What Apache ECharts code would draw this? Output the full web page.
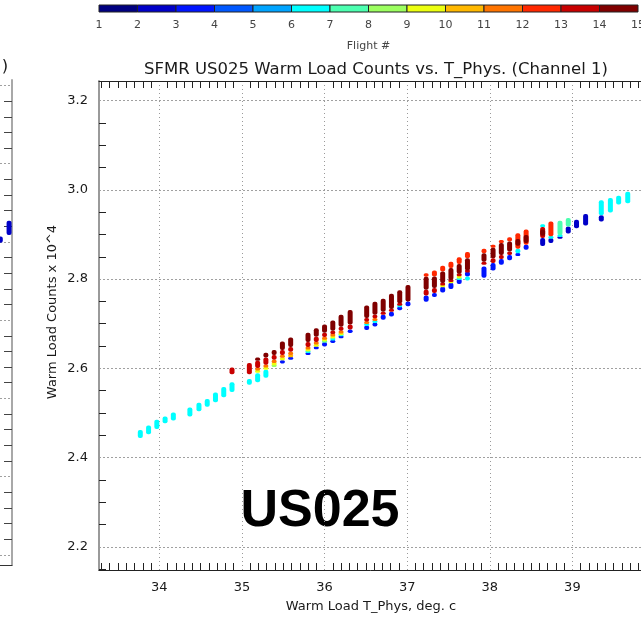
<!DOCTYPE html>
<html>
<head>
<meta charset="utf-8">
<script src="https://cdn.jsdelivr.net/npm/echarts@6/dist/echarts.min.js"></script>
<style>
html, body { margin: 0; padding: 0; background: #ffffff; }
#chart { width: 641px; height: 620px; }
</style>
</head>
<body>
<div id="chart"></div>
<script>
// Flight colour table (flights 1..14), discrete rainbow
const flightIds = [1, 2, 3, 4, 5, 6, 7, 8, 9, 10, 11, 12, 13, 14];
const flightColors = ['#000080', '#0000c8', '#0014ff', '#0058ff', '#00a4ff', '#00ffff', '#4cffb0',
  '#9cff60', '#ecff10', '#ffb800', '#ff7400', '#ff2800', '#c80000', '#800000'];
const colorbarLabels = ['1', '2', '3', '4', '5', '6', '7', '8', '9', '10', '11', '12', '13', '14', '15'];

// Each record: [T_Phys (deg C), lowest counts (x10^4), highest counts (x10^4)]
const flight02 = [[38.64, 2.874, 2.892], [38.74, 2.881, 2.892], [38.85, 2.892, 2.896], [38.95, 2.902, 2.918],
  [39.05, 2.914, 2.933], [39.16, 2.920, 2.946], [39.35, 2.929, 2.943]];
const flight03 = [[35.49, 2.611, 2.618], [35.59, 2.619, 2.626], [35.80, 2.630, 2.636], [35.90, 2.643, 2.649],
  [36.00, 2.649, 2.659], [36.10, 2.657, 2.664], [36.20, 2.668, 2.674], [36.31, 2.679, 2.687],
  [36.51, 2.686, 2.696], [36.61, 2.694, 2.703], [36.71, 2.709, 2.720], [36.81, 2.716, 2.727],
  [36.91, 2.730, 2.739], [37.01, 2.739, 2.750], [37.23, 2.749, 2.763], [37.33, 2.760, 2.769],
  [37.43, 2.770, 2.783], [37.53, 2.778, 2.792], [37.63, 2.789, 2.801], [37.73, 2.806, 2.817],
  [37.93, 2.803, 2.828], [38.04, 2.819, 2.836], [38.14, 2.832, 2.845], [38.24, 2.842, 2.854],
  [38.34, 2.852, 2.858], [38.44, 2.866, 2.877]];
const flight06 = [[33.77, 2.444, 2.462], [33.87, 2.452, 2.472], [33.97, 2.464, 2.485], [34.07, 2.477, 2.492],
  [34.17, 2.483, 2.501], [34.37, 2.492, 2.512], [34.48, 2.504, 2.523], [34.58, 2.514, 2.531],
  [34.68, 2.524, 2.546], [34.78, 2.535, 2.558], [34.88, 2.547, 2.569], [35.09, 2.563, 2.576],
  [35.19, 2.569, 2.589], [35.29, 2.579, 2.597], [35.80, 2.636, 2.639], [36.10, 2.664, 2.668],
  [36.20, 2.674, 2.676], [36.51, 2.696, 2.701], [36.61, 2.703, 2.707], [36.91, 2.739, 2.741],
  [37.63, 2.801, 2.802], [37.73, 2.797, 2.806], [38.34, 2.858, 2.868], [38.64, 2.916, 2.923],
  [38.74, 2.892, 2.896], [38.85, 2.896, 2.899], [39.35, 2.943, 2.977], [39.46, 2.949, 2.982],
  [39.56, 2.967, 2.987], [39.67, 2.970, 2.996]];
const flight07 = [[36.00, 2.659, 2.662], [38.85, 2.899, 2.931], [38.95, 2.918, 2.937]];
const flight08 = [[35.39, 2.604, 2.609]];
const flight09 = [[35.19, 2.591, 2.596], [35.29, 2.598, 2.602], [35.39, 2.609, 2.612], [35.49, 2.619, 2.624],
  [35.80, 2.639, 2.643], [35.90, 2.649, 2.654], [36.00, 2.662, 2.665], [36.10, 2.668, 2.672],
  [36.20, 2.676, 2.679], [37.43, 2.783, 2.787], [37.53, 2.792, 2.796], [37.63, 2.802, 2.807]];
const flight10 = [[35.59, 2.626, 2.630]];
const flight11 = [[35.19, 2.596, 2.601], [35.29, 2.602, 2.608], [35.39, 2.612, 2.619], [35.49, 2.624, 2.630],
  [35.59, 2.630, 2.637], [35.80, 2.643, 2.648], [35.90, 2.654, 2.659], [36.00, 2.665, 2.670],
  [36.10, 2.672, 2.677], [36.20, 2.679, 2.684], [36.51, 2.701, 2.705], [36.61, 2.707, 2.712]];
const flight12 = [[37.23, 2.805, 2.813], [37.33, 2.806, 2.819], [37.43, 2.817, 2.830], [37.53, 2.825, 2.839],
  [37.63, 2.834, 2.849], [37.73, 2.847, 2.861], [37.93, 2.858, 2.868], [38.04, 2.870, 2.877],
  [38.14, 2.881, 2.887], [38.24, 2.884, 2.894], [38.34, 2.868, 2.903], [38.44, 2.877, 2.911],
  [38.74, 2.896, 2.929]];
const flight13 = [[34.88, 2.587, 2.602], [35.09, 2.587, 2.612], [35.19, 2.601, 2.617], [35.29, 2.608, 2.624],
  [35.39, 2.619, 2.630], [35.49, 2.630, 2.641], [35.59, 2.637, 2.648], [35.80, 2.648, 2.659],
  [35.90, 2.659, 2.671], [36.00, 2.670, 2.680], [36.10, 2.677, 2.684], [36.20, 2.684, 2.693],
  [36.31, 2.687, 2.698], [36.51, 2.705, 2.713], [36.61, 2.712, 2.720], [36.71, 2.720, 2.727],
  [36.81, 2.727, 2.733], [36.91, 2.741, 2.746], [37.23, 2.763, 2.776], [37.33, 2.769, 2.780],
  [37.43, 2.787, 2.791], [37.53, 2.796, 2.798], [37.63, 2.807, 2.812], [37.73, 2.817, 2.819],
  [37.93, 2.832, 2.839], [38.04, 2.836, 2.847], [38.14, 2.845, 2.854], [38.24, 2.854, 2.862],
  [38.64, 2.892, 2.917]];
const flight14 = [[35.19, 2.617, 2.624], [35.29, 2.624, 2.635], [35.39, 2.630, 2.641], [35.49, 2.641, 2.660],
  [35.59, 2.648, 2.669], [35.80, 2.659, 2.680], [35.90, 2.671, 2.690], [36.00, 2.680, 2.698],
  [36.10, 2.684, 2.707], [36.20, 2.693, 2.720], [36.31, 2.698, 2.731], [36.51, 2.713, 2.741],
  [36.61, 2.720, 2.749], [36.71, 2.727, 2.756], [36.81, 2.733, 2.767], [36.91, 2.746, 2.775],
  [37.01, 2.750, 2.787], [37.23, 2.776, 2.805], [37.33, 2.780, 2.806], [37.43, 2.791, 2.817],
  [37.53, 2.798, 2.825], [37.63, 2.812, 2.834], [37.73, 2.819, 2.847], [37.93, 2.839, 2.858],
  [38.04, 2.847, 2.870], [38.14, 2.854, 2.881], [38.24, 2.862, 2.884], [38.34, 2.875, 2.890],
  [38.44, 2.881, 2.899], [38.64, 2.897, 2.911]];

// Neighbouring panel (only its right edge is in view)
const leftPanelFlight02 = [[39.84, 2.799, 2.807], [39.96, 2.809, 2.827]];

// Axis ranges and tick values
const xRange = [33.27, 40];
const yRange = [2.148, 3.244];
const xMajor = [34, 35, 36, 37, 38, 39];
const yMajor = [2.2, 2.4, 2.6, 2.8, 3.0, 3.2];
const leftRange = [2.387, 3.007];
const leftMajor = [2.4, 2.5, 2.6, 2.7, 2.8, 2.9, 3.0];

function stepValues(from, to, step, skipEvery) {
  const out = [];
  const n = Math.round((to - from) / step);
  for (let i = 0; i <= n; i++) {
    const v = Math.round((from + i * step) * 1000) / 1000;
    const k = v / skipEvery;
    if (Math.abs(k - Math.round(k)) > 1e-6) out.push(v);
  }
  return out;
}
const xMinor = stepValues(33.3, 39.9, 0.1, 1);
const yMinor = stepValues(2.15, 3.2, 0.05, 0.2);
const leftMinor = stepValues(2.40, 3.0, 0.02, 0.1);

function columnRenderer(color) {
  return function (params, api) {
    const t = api.value(0);
    const top = api.coord([t, api.value(2)]);
    const bottom = api.coord([t, api.value(1)]);
    let h = bottom[1] - top[1];
    let y = top[1];
    if (h < 3) { y -= (3 - h) / 2; h = 3; }
    return {
      type: 'rect',
      shape: { x: top[0] - 2.5, y: y, width: 5, height: h, r: 2 },
      style: { fill: color }
    };
  };
}

function flightSeries(data, flight, axisIndex) {
  return {
    type: 'custom',
    name: 'Flight ' + flight,
    xAxisIndex: axisIndex,
    yAxisIndex: axisIndex,
    data: data,
    encode: { x: 0, y: [1, 2] },
    clip: true,
    silent: true,
    renderItem: columnRenderer(flightColors[flight - 1])
  };
}

const FONT = 'DejaVu Sans';
const INK = '#1a1a1a';
const dotted = { show: true, lineStyle: { color: '#9a9a9a', width: 1, type: [1, 3] } };
const dashedH = { show: true, lineStyle: { color: '#a0a0a0', width: 1, type: [2, 2] } };
const minorTick = { show: true, inside: true, length: 7, lineStyle: { color: '#222', width: 1 } };
const hidden = { show: false };

const option = {
  animation: false,
  backgroundColor: '#ffffff',
  grid: [
    { left: 99, top: 81, width: 556, height: 489, outerBoundsMode: 'none' },
    { left: 99, top: 81, width: 556, height: 489, outerBoundsMode: 'none' },
    { left: -500, top: 80, width: 512, height: 485, outerBoundsMode: 'none' },
    { left: 99, top: 5, width: 539, height: 7, outerBoundsMode: 'none' }
  ],
  xAxis: [
    { gridIndex: 0, type: 'value', position: 'bottom', min: xRange[0], max: xRange[1],
      axisLine: { show: true, onZero: false, lineStyle: { color: '#222', width: 1 } },
      axisTick: { show: false, customValues: xMajor },
      axisLabel: { customValues: xMajor, margin: 11, color: INK, fontFamily: FONT, fontSize: 13 },
      splitLine: dotted },
    { gridIndex: 1, type: 'value', position: 'bottom', min: xRange[0], max: xRange[1],
      axisLine: { show: false, onZero: false },
      axisTick: Object.assign({ customValues: xMinor }, minorTick),
      axisLabel: hidden, splitLine: hidden },
    { gridIndex: 1, type: 'value', position: 'top', min: xRange[0], max: xRange[1],
      axisLine: { show: true, onZero: false, lineStyle: { color: '#222', width: 1 } },
      axisTick: Object.assign({ customValues: xMinor }, minorTick),
      axisLabel: hidden, splitLine: hidden },
    { gridIndex: 2, type: 'value', position: 'bottom', min: 33, max: 40,
      axisLine: { show: true, onZero: false, lineStyle: { color: '#333', width: 1 } },
      axisTick: hidden, axisLabel: hidden, splitLine: hidden },
    { gridIndex: 3, type: 'value', position: 'bottom', min: 1, max: 15, interval: 1,
      axisLine: hidden, axisTick: hidden, splitLine: hidden,
      axisLabel: { margin: 8, color: '#444', fontFamily: FONT, fontSize: 11,
        formatter: function (v) { return colorbarLabels[Math.round(v) - 1]; } },
      name: 'Flight #', nameLocation: 'middle', nameGap: 29,
      nameTextStyle: { color: '#444', fontFamily: FONT, fontSize: 11 } }
  ],
  yAxis: [
    { gridIndex: 0, type: 'value', position: 'left', min: yRange[0], max: yRange[1],
      axisLine: { show: true, onZero: false, lineStyle: { color: '#9a9a9a', width: 2 } },
      axisTick: { show: false, customValues: yMajor },
      axisLabel: { customValues: yMajor, margin: 11, color: INK, fontFamily: FONT, fontSize: 13,
        formatter: function (v) { return v.toFixed(1); } },
      splitLine: dashedH },
    { gridIndex: 1, type: 'value', position: 'left', min: yRange[0], max: yRange[1],
      axisLine: { show: false, onZero: false },
      axisTick: Object.assign({ customValues: yMinor }, minorTick),
      axisLabel: hidden, splitLine: hidden },
    { gridIndex: 2, type: 'value', position: 'right', min: leftRange[0], max: leftRange[1],
      axisLine: { show: true, onZero: false, lineStyle: { color: '#a8a8a8', width: 2 } },
      axisTick: { show: true, inside: true, length: 8, customValues: leftMinor, lineStyle: { color: '#444', width: 1 } },
      axisLabel: hidden, splitLine: hidden },
    { gridIndex: 2, type: 'value', position: 'left', min: leftRange[0], max: leftRange[1],
      axisLine: hidden, axisTick: { show: false, customValues: leftMajor }, axisLabel: hidden,
      splitLine: dashedH },
    { gridIndex: 3, type: 'value', min: 0, max: 1, show: false }
  ],
  series: [
    flightSeries(flight02, 2, 0),
    flightSeries(flight03, 3, 0),
    flightSeries(flight06, 6, 0),
    flightSeries(flight07, 7, 0),
    flightSeries(flight08, 8, 0),
    flightSeries(flight09, 9, 0),
    flightSeries(flight10, 10, 0),
    flightSeries(flight11, 11, 0),
    flightSeries(flight12, 12, 0),
    flightSeries(flight13, 13, 0),
    flightSeries(flight14, 14, 0),
    {
      type: 'custom', name: 'Flight 2 (left panel)', xAxisIndex: 3, yAxisIndex: 2,
      data: leftPanelFlight02, encode: { x: 0, y: [1, 2] }, clip: true, silent: true,
      renderItem: columnRenderer(flightColors[1])
    },
    {
      // colour bar keyed by flight number
      type: 'custom', name: 'colorbar', xAxisIndex: 4, yAxisIndex: 4, silent: true,
      data: flightIds.map(function (n) { return [n, 0]; }),
      renderItem: function (params, api) {
        const n = api.value(0);
        const p0 = api.coord([n, 0]);
        const p1 = api.coord([n + 1, 1]);
        return {
          type: 'rect',
          shape: { x: p0[0], y: p1[1], width: p1[0] - p0[0], height: p0[1] - p1[1] },
          style: { fill: flightColors[n - 1], stroke: '#222', lineWidth: 1 }
        };
      }
    }
  ],
  graphic: [
    { type: 'text', x: 376, y: 70, silent: true,
      style: { text: 'SFMR US025 Warm Load Counts vs. T_Phys. (Channel 1)', font: '16.5px "DejaVu Sans"',
        fill: INK, align: 'center', verticalAlign: 'middle', textAlign: 'center', textVerticalAlign: 'middle' } },
    { type: 'text', x: 5, y: 67, silent: true,
      style: { text: ')', font: '16.5px "DejaVu Sans"', fill: INK,
        align: 'center', verticalAlign: 'middle', textAlign: 'center', textVerticalAlign: 'middle' } },
    { type: 'text', x: 371, y: 607, silent: true,
      style: { text: 'Warm Load T_Phys, deg. c', font: '13px "DejaVu Sans"', fill: INK,
        align: 'center', verticalAlign: 'middle', textAlign: 'center', textVerticalAlign: 'middle' } },
    { type: 'text', x: 53, y: 312, rotation: Math.PI / 2, silent: true,
      style: { text: 'Warm Load Counts x 10^4', font: '13px "DejaVu Sans"', fill: INK,
        align: 'center', verticalAlign: 'middle', textAlign: 'center', textVerticalAlign: 'middle' } },
    { type: 'text', x: 320, y: 512, silent: true,
      style: { text: 'US025', font: 'bold 52px "Liberation Sans"', fill: '#000000',
        align: 'center', verticalAlign: 'middle', textAlign: 'center', textVerticalAlign: 'middle' } }
  ]
};

const chart = echarts.init(document.getElementById('chart'), null, { renderer: 'canvas' });
chart.setOption(option);
</script>
</body>
</html>
